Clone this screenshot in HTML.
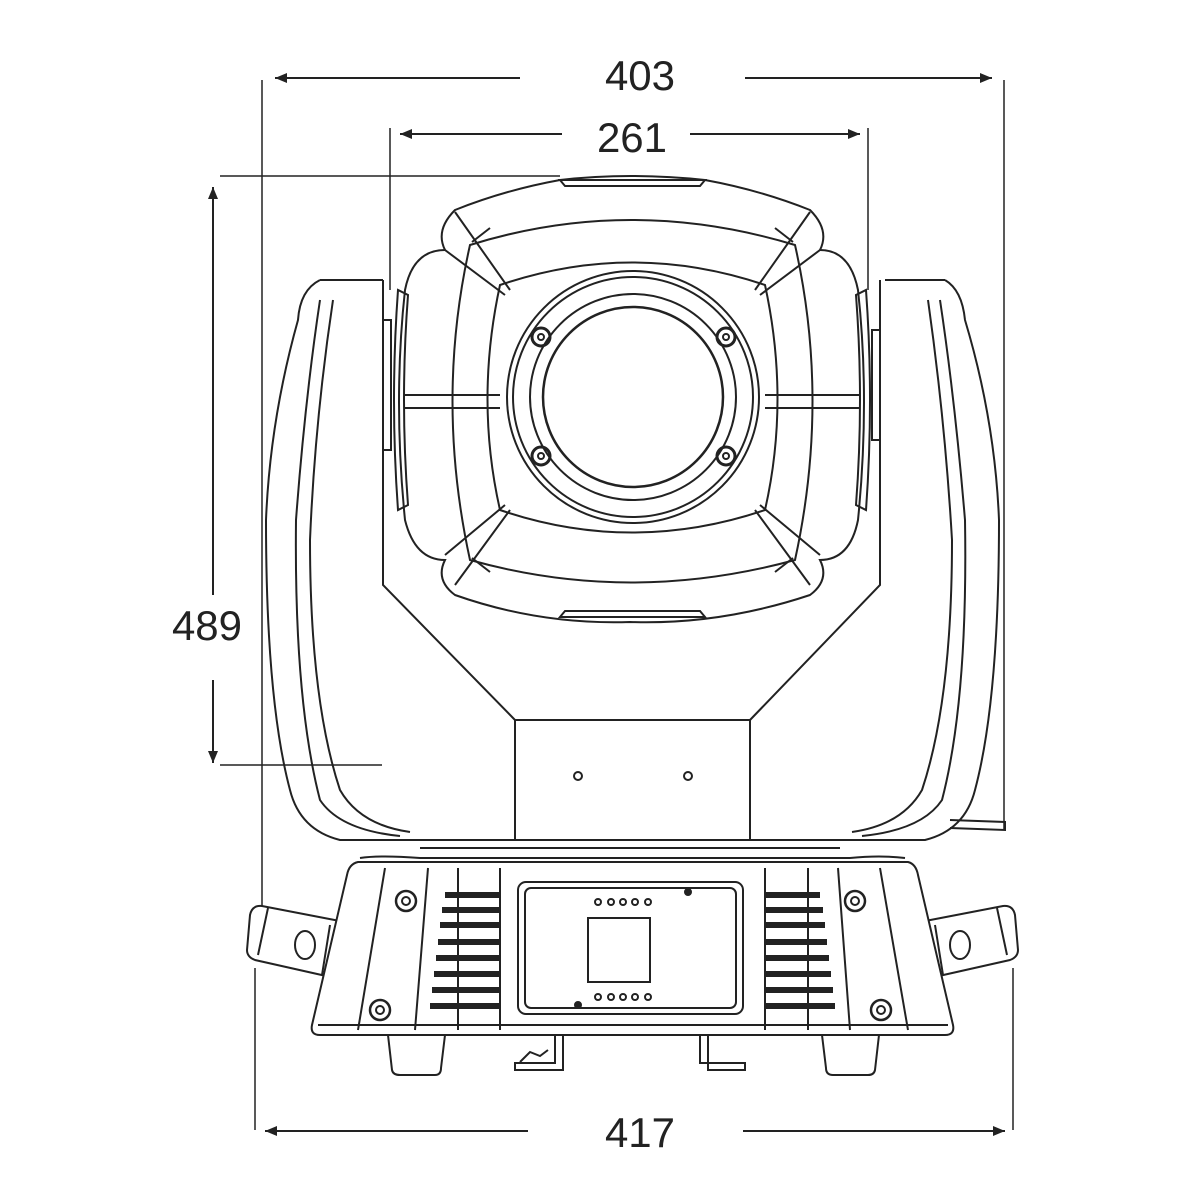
<!DOCTYPE html>
<html><head><meta charset="utf-8"><style>
html,body{margin:0;padding:0;background:#fff;}
svg{display:block}
text{font-family:"Liberation Sans",sans-serif;font-size:42px;fill:#222;}
</style></head><body>
<svg width="1200" height="1200" viewBox="0 0 1200 1200" xmlns="http://www.w3.org/2000/svg">
<defs>
<marker id="a" viewBox="0 0 12 10" refX="12" refY="5" markerWidth="12" markerHeight="10" orient="auto-start-reverse" markerUnits="userSpaceOnUse"><path d="M0,0 L12,5 L0,10 Z" fill="#222"/></marker>
</defs>
<g stroke="#222" fill="none" stroke-width="2">
<line x1="262" y1="80" x2="262" y2="940" stroke-width="1.5"/>
<line x1="1004" y1="80" x2="1004" y2="830" stroke-width="1.5"/>
<line x1="275" y1="78" x2="520" y2="78" marker-start="url(#a)"/>
<line x1="745" y1="78" x2="992" y2="78" marker-end="url(#a)"/>
<line x1="390" y1="128" x2="390" y2="290" stroke-width="1.5"/>
<line x1="868" y1="128" x2="868" y2="290" stroke-width="1.5"/>
<line x1="400" y1="134" x2="562" y2="134" marker-start="url(#a)"/>
<line x1="690" y1="134" x2="860" y2="134" marker-end="url(#a)"/>
<line x1="220" y1="176" x2="560" y2="176" stroke-width="1.5"/>
<line x1="220" y1="765" x2="382" y2="765" stroke-width="1.5"/>
<line x1="213" y1="187" x2="213" y2="595" marker-start="url(#a)"/>
<line x1="213" y1="680" x2="213" y2="763" marker-end="url(#a)"/>
<line x1="255" y1="968" x2="255" y2="1130" stroke-width="1.5"/>
<line x1="1013" y1="968" x2="1013" y2="1130" stroke-width="1.5"/>
<line x1="265" y1="1131" x2="528" y2="1131" marker-start="url(#a)"/>
<line x1="743" y1="1131" x2="1005" y2="1131" marker-end="url(#a)"/>

<path d="M383,280 L383,585 L515,720 M750,720 L880,585 L880,280"/>
<path d="M320,280 L383,280 M885,280 L945,280"/>
<path d="M320,280 Q300,290 298,320 Q270,420 266,520 Q266,700 290,790 Q300,830 340,840 L515,840"/>
<path d="M320,300 Q305,400 296,520 Q294,700 320,800 Q340,830 400,836"/>
<path d="M333,300 Q315,420 310,540 Q310,700 340,790 Q360,825 410,832"/>
<path d="M945,280 Q962,290 965,320 Q995,420 999,520 Q999,700 975,790 Q965,830 925,840 L750,840"/>
<path d="M940,300 Q955,400 965,520 Q968,700 942,800 Q922,830 862,836"/>
<path d="M928,300 Q945,420 952,540 Q952,700 922,790 Q902,825 852,832"/>
<path d="M950,820 L1005,822 L1005,830 L950,828"/>
<rect x="515" y="720" width="235" height="120"/>
<circle cx="578" cy="776" r="4"/>
<circle cx="688" cy="776" r="4"/>
<line x1="380" y1="840" x2="880" y2="840"/>
<line x1="420" y1="848" x2="840" y2="848"/>

<path d="M560,180 Q630,172 705,180 Q760,190 810,210 Q830,230 820,250 Q850,250 858,290 Q870,400 858,520 Q850,560 820,560 Q830,580 810,595 Q720,625 630,622 Q540,625 455,595 Q435,580 445,560 Q415,560 405,520 Q393,400 405,290 Q413,250 445,250 Q435,230 455,210 Q505,190 560,180 Z" fill="#fff"/>
<path d="M470,245 Q630,195 795,245 Q830,400 795,560 Q630,605 470,560 Q435,400 470,245 Z"/>
<path d="M500,285 Q632,240 765,285 Q790,400 765,510 Q632,555 500,510 Q475,400 500,285 Z"/>
<path d="M455,212 L510,290 M810,212 L755,290 M455,585 L510,510 M810,585 L755,510"/>
<path d="M445,250 L505,295 M820,250 L760,295 M445,555 L505,505 M820,555 L760,505"/>
<path d="M405,395 L500,395 M405,408 L500,408 M765,395 L860,395 M765,408 L860,408"/>
<path d="M560,180 L705,180 L700,186 L565,186 Z"/>
<path d="M560,617 L705,617 L700,611 L565,611 Z"/>
<path d="M398,290 Q390,400 398,510 L408,505 Q400,400 408,295 Z"/>
<path d="M866,290 Q874,400 866,510 L856,505 Q864,400 856,295 Z"/>
<rect x="383" y="320" width="8" height="130"/>
<rect x="872" y="330" width="8" height="110"/>
<path d="M472,242 L490,228 M793,242 L775,228 M472,558 L490,572 M793,558 L775,572"/>
<circle cx="633" cy="397" r="126"/>
<circle cx="633" cy="397" r="120"/>
<circle cx="633" cy="397" r="103"/>
<circle cx="633" cy="397" r="90" stroke-width="2.5"/>
<g stroke-width="3"><circle cx="541" cy="337" r="9"/><circle cx="726" cy="337" r="9"/><circle cx="541" cy="456" r="9"/><circle cx="726" cy="456" r="9"/></g>
<g><circle cx="541" cy="337" r="3"/><circle cx="726" cy="337" r="3"/><circle cx="541" cy="456" r="3"/><circle cx="726" cy="456" r="3"/></g>

<!-- handles -->
<path d="M345,922 L262,906 Q252,905 250,915 L247,950 Q247,957 255,960 L335,978" fill="#fff"/>
<path d="M268,908 L258,955 M330,925 L322,975"/>
<ellipse cx="305" cy="945" rx="10" ry="14"/>
<path d="M920,922 L1003,906 Q1013,905 1015,915 L1018,950 Q1018,957 1010,960 L930,978" fill="#fff"/>
<path d="M997,908 L1007,955 M935,925 L943,975"/>
<ellipse cx="960" cy="945" rx="10" ry="14"/>

<!-- base -->
<path d="M358,862 L908,862 Q916,864 918,875 L953,1025 Q955,1035 945,1035 L320,1035 Q310,1035 312,1025 L347,875 Q349,864 358,862 Z" fill="#fff"/>
<path d="M360,858 Q380,855 420,858 L850,858 Q880,855 905,858"/>
<line x1="318" y1="1025" x2="948" y2="1025"/>
<path d="M385,868 L358,1030 M428,868 L415,1030 M838,868 L850,1030 M880,868 L908,1030"/>
<path d="M458,868 L458,1030 M500,868 L500,1030 M765,868 L765,1030 M808,868 L808,1030"/>
<g stroke-width="6">
<path d="M445,895 L500,895 M442,910 L500,910 M440,925 L500,925 M438,942 L500,942 M436,958 L500,958 M434,974 L500,974 M432,990 L500,990 M430,1006 L500,1006"/>
<path d="M765,895 L820,895 M765,910 L823,910 M765,925 L825,925 M765,942 L827,942 M765,958 L829,958 M765,974 L831,974 M765,990 L833,990 M765,1006 L835,1006"/>
</g>
<rect x="518" y="882" width="225" height="132" rx="8"/>
<rect x="525" y="888" width="211" height="120" rx="6"/>
<rect x="588" y="918" width="62" height="64"/>
<g><circle cx="598" cy="902" r="3"/><circle cx="611" cy="902" r="3"/><circle cx="623" cy="902" r="3"/><circle cx="635" cy="902" r="3"/><circle cx="648" cy="902" r="3"/>
<circle cx="598" cy="997" r="3"/><circle cx="611" cy="997" r="3"/><circle cx="623" cy="997" r="3"/><circle cx="635" cy="997" r="3"/><circle cx="648" cy="997" r="3"/></g>
<circle cx="688" cy="892" r="3" fill="#222"/><circle cx="578" cy="1005" r="3" fill="#222"/>
<g stroke-width="2.5"><circle cx="406" cy="901" r="10"/><circle cx="855" cy="901" r="10"/><circle cx="380" cy="1010" r="10"/><circle cx="881" cy="1010" r="10"/></g>
<g><circle cx="406" cy="901" r="4"/><circle cx="855" cy="901" r="4"/><circle cx="380" cy="1010" r="4"/><circle cx="881" cy="1010" r="4"/></g>
<path d="M388,1035 L392,1070 Q393,1075 400,1075 L435,1075 Q441,1075 441,1068 L445,1035"/>
<path d="M822,1035 L826,1068 Q826,1075 833,1075 L868,1075 Q874,1075 875,1070 L879,1035"/>
<path d="M555,1035 L555,1063 L515,1063 L515,1070 L563,1070 L563,1035"/>
<path d="M700,1035 L700,1063 L745,1063 L745,1070 L708,1070 L708,1035"/>
<path d="M520,1062 L530,1052 L540,1056 L548,1050"/>
</g>
<text x="640" y="90" text-anchor="middle">403</text>
<text x="632" y="152" text-anchor="middle">261</text>
<text x="207" y="640" text-anchor="middle">489</text>
<text x="640" y="1147" text-anchor="middle">417</text>
</svg>
</body></html>
